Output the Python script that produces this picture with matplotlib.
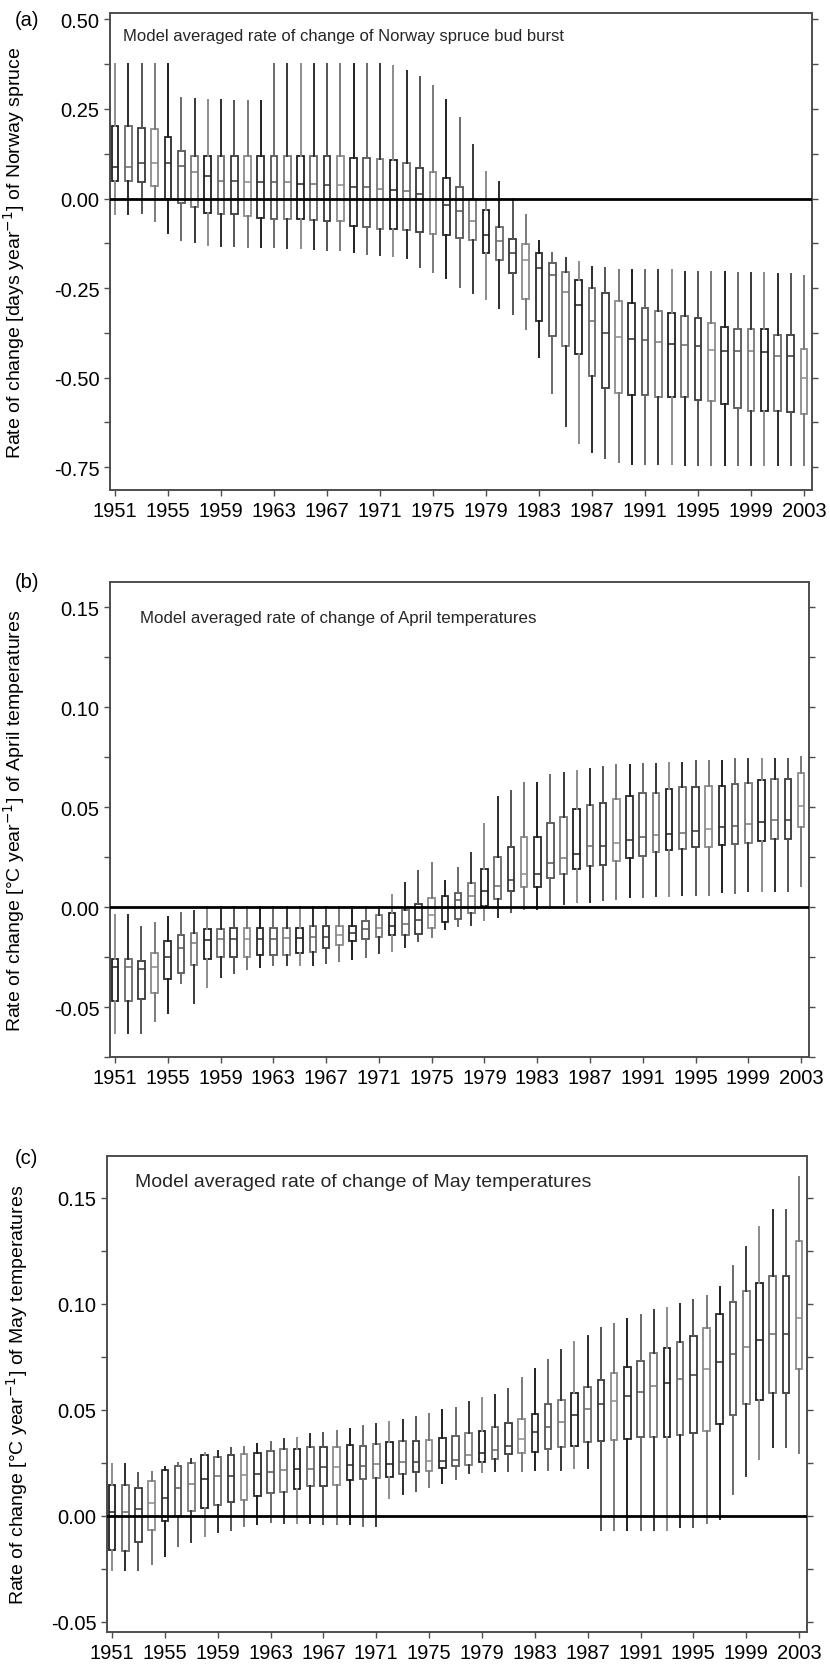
import matplotlib
matplotlib.use("Agg")
import matplotlib.pyplot as plt
from matplotlib.ticker import MultipleLocator

plt.rcParams['font.family'] = ['Liberation Sans', 'DejaVu Sans']
plt.rcParams['axes.unicode_minus'] = False

years = list(range(1951, 2004))
year_ticks = list(range(1951, 2004, 4))

# (a) Norway spruce bud burst, days per year
spruce_hi = [0.376, 0.376, 0.376, 0.376, 0.376, 0.282, 0.278, 0.275, 0.275, 0.272,
             0.272, 0.272, 0.376, 0.376, 0.376, 0.376, 0.376, 0.376, 0.376, 0.376,
             0.376, 0.370, 0.357, 0.338, 0.313, 0.275, 0.224, 0.150, 0.075, 0.047,
             0.000, -0.047, -0.119, -0.152, -0.166, -0.176, -0.190, -0.195, -0.199, -0.199,
             -0.201, -0.201, -0.201, -0.204, -0.204, -0.204, -0.204, -0.207, -0.209, -0.209,
             -0.211, -0.211, -0.216]
spruce_q3 = [0.203, 0.203, 0.198, 0.193, 0.172, 0.134, 0.120, 0.120, 0.120, 0.120,
             0.120, 0.120, 0.120, 0.120, 0.120, 0.120, 0.120, 0.120, 0.114, 0.114,
             0.111, 0.108, 0.100, 0.085, 0.075, 0.056, 0.031, 0.000, -0.032, -0.079,
             -0.113, -0.126, -0.152, -0.179, -0.204, -0.227, -0.251, -0.265, -0.286, -0.291,
             -0.307, -0.314, -0.320, -0.329, -0.333, -0.348, -0.359, -0.364, -0.365, -0.365,
             -0.380, -0.380, -0.421]
spruce_med = [0.087, 0.087, 0.100, 0.100, 0.100, 0.090, 0.075, 0.062, 0.050, 0.050,
              0.047, 0.047, 0.047, 0.047, 0.040, 0.040, 0.038, 0.038, 0.031, 0.031,
              0.026, 0.024, 0.022, 0.012, -0.002, -0.019, -0.035, -0.063, -0.103, -0.119,
              -0.152, -0.171, -0.195, -0.213, -0.260, -0.298, -0.343, -0.375, -0.387, -0.392,
              -0.396, -0.402, -0.406, -0.409, -0.413, -0.423, -0.425, -0.425, -0.425, -0.428,
              -0.440, -0.440, -0.500]
spruce_q1 = [0.050, 0.050, 0.047, 0.034, 0.000, -0.013, -0.025, -0.040, -0.042, -0.042,
             -0.049, -0.054, -0.056, -0.056, -0.058, -0.060, -0.063, -0.063, -0.077, -0.079,
             -0.084, -0.085, -0.087, -0.093, -0.098, -0.103, -0.110, -0.115, -0.152, -0.173,
             -0.209, -0.282, -0.342, -0.383, -0.412, -0.433, -0.495, -0.529, -0.543, -0.548,
             -0.548, -0.553, -0.553, -0.553, -0.562, -0.565, -0.575, -0.585, -0.594, -0.594,
             -0.594, -0.596, -0.601]
spruce_lo = [-0.044, -0.044, -0.040, -0.063, -0.096, -0.117, -0.122, -0.129, -0.132, -0.134,
             -0.135, -0.135, -0.135, -0.138, -0.138, -0.141, -0.145, -0.145, -0.150, -0.154,
             -0.157, -0.160, -0.166, -0.190, -0.204, -0.223, -0.246, -0.265, -0.282, -0.305,
             -0.322, -0.365, -0.442, -0.543, -0.635, -0.683, -0.707, -0.726, -0.736, -0.742,
             -0.742, -0.742, -0.742, -0.745, -0.745, -0.745, -0.745, -0.745, -0.745, -0.745,
             -0.745, -0.745, -0.745]

# (b) April temperatures, degC per year
april_hi = [-0.004, -0.004, -0.010, -0.008, -0.005, -0.003, -0.002, 0.000, 0.000, 0.000,
            0.000, 0.000, 0.000, 0.000, 0.000, 0.000, 0.000, 0.000, 0.000, 0.000,
            0.000, 0.006, 0.012, 0.018, 0.022, 0.0128, 0.0195, 0.027, 0.0415, 0.055,
            0.058, 0.062, 0.062, 0.066, 0.067, 0.068, 0.069, 0.070, 0.071, 0.071,
            0.0715, 0.0715, 0.072, 0.072, 0.073, 0.073, 0.073, 0.074, 0.074, 0.074,
            0.074, 0.074, 0.075]
april_q3 = [-0.026, -0.026, -0.027, -0.023, -0.017, -0.014, -0.013, -0.011, -0.011, -0.0105,
            -0.0105, -0.0105, -0.0105, -0.0105, -0.0105, -0.0097, -0.0097, -0.0097, -0.0093, -0.007,
            -0.004, -0.003, -0.0015, 0.0017, 0.0045, 0.0053, 0.007, 0.012, 0.019, 0.025,
            0.030, 0.035, 0.035, 0.042, 0.045, 0.049, 0.051, 0.052, 0.054, 0.0557,
            0.057, 0.057, 0.059, 0.060, 0.060, 0.0607, 0.0607, 0.0615, 0.062, 0.0637,
            0.064, 0.064, 0.067]
april_med = [-0.030, -0.030, -0.031, -0.030, -0.025, -0.0205, -0.018, -0.0167, -0.016, -0.016,
             -0.016, -0.016, -0.016, -0.0155, -0.0155, -0.015, -0.015, -0.014, -0.013, -0.011,
             -0.0105, -0.0093, -0.0083, -0.0067, -0.004, -0.0005, 0.0037, 0.0053, 0.0078, 0.0103,
             0.0137, 0.0167, 0.0167, 0.022, 0.0245, 0.0267, 0.0307, 0.0307, 0.032, 0.0335,
             0.035, 0.036, 0.0365, 0.037, 0.038, 0.039, 0.040, 0.0407, 0.0415, 0.0427,
             0.0435, 0.0435, 0.0507]
april_q1 = [-0.047, -0.047, -0.046, -0.043, -0.036, -0.033, -0.029, -0.026, -0.025, -0.025,
            -0.025, -0.024, -0.024, -0.024, -0.023, -0.0227, -0.0205, -0.019, -0.017, -0.016,
            -0.015, -0.014, -0.014, -0.0133, -0.0105, -0.0077, -0.006, -0.003, 0.0003, 0.004,
            0.0078, 0.010, 0.010, 0.0145, 0.0167, 0.019, 0.0207, 0.021, 0.0228, 0.0245,
            0.0257, 0.0273, 0.0285, 0.029, 0.030, 0.030, 0.031, 0.0315, 0.032, 0.033,
            0.034, 0.034, 0.040]
april_lo = [-0.063, -0.063, -0.063, -0.057, -0.053, -0.038, -0.048, -0.040, -0.035, -0.033,
            -0.031, -0.030, -0.029, -0.029, -0.029, -0.029, -0.028, -0.027, -0.026, -0.025,
            -0.023, -0.022, -0.020, -0.017, -0.015, -0.011, -0.0097, -0.0088, -0.0067, -0.005,
            -0.0027, -0.001, -0.001, 0.0012, 0.0017, 0.0023, 0.0023, 0.0033, 0.004, 0.005,
            0.005, 0.0053, 0.0057, 0.006, 0.006, 0.006, 0.0073, 0.007, 0.0078, 0.0078,
            0.0078, 0.0078, 0.0107]

# (c) May temperatures, degC per year
may_hi = [0.0244, 0.0244, 0.020, 0.0208, 0.0228, 0.025, 0.0267, 0.0296, 0.0307, 0.0318,
          0.0322, 0.0338, 0.0349, 0.0362, 0.0365, 0.0385, 0.039, 0.040, 0.0409, 0.0425,
          0.0432, 0.0443, 0.0453, 0.0464, 0.048, 0.050, 0.051, 0.0535, 0.0555, 0.057,
          0.060, 0.065, 0.069, 0.0737, 0.078, 0.082, 0.0848, 0.0884, 0.0906, 0.0927,
          0.0947, 0.097, 0.098, 0.0998, 0.102, 0.1037, 0.108, 0.118, 0.127, 0.136,
          0.144, 0.144, 0.160]
may_q3 = [0.0145, 0.0145, 0.0129, 0.0165, 0.0217, 0.0236, 0.0248, 0.0286, 0.0275, 0.0286,
          0.029, 0.0296, 0.0307, 0.0314, 0.0314, 0.0322, 0.0322, 0.0322, 0.0333, 0.033,
          0.0338, 0.0349, 0.0354, 0.0354, 0.0358, 0.0365, 0.0374, 0.039, 0.040, 0.0417,
          0.0437, 0.0455, 0.0482, 0.0525, 0.0545, 0.058, 0.0608, 0.064, 0.0674, 0.070,
          0.073, 0.0769, 0.079, 0.082, 0.0848, 0.0884, 0.0953, 0.101, 0.1058, 0.110,
          0.113, 0.113, 0.1298]
may_med = [0.0016, 0.0016, 0.0031, 0.006, 0.0086, 0.0129, 0.0149, 0.0173, 0.0186, 0.0189,
           0.0192, 0.0197, 0.0208, 0.0217, 0.022, 0.022, 0.0228, 0.0228, 0.0239, 0.0236,
           0.0244, 0.0244, 0.0252, 0.0255, 0.026, 0.026, 0.0264, 0.0286, 0.0296, 0.0311,
           0.033, 0.0362, 0.0393, 0.0417, 0.0443, 0.0476, 0.0505, 0.0525, 0.0543, 0.0567,
           0.0585, 0.061, 0.0628, 0.0647, 0.0666, 0.069, 0.0726, 0.0764, 0.0795, 0.0827,
           0.0855, 0.0855, 0.0934]
may_q1 = [-0.016, -0.0165, -0.0123, -0.0066, -0.0024, 0.000, 0.0024, 0.0035, 0.005, 0.0066,
          0.0075, 0.0094, 0.0107, 0.0113, 0.0126, 0.0138, 0.0142, 0.0145, 0.017, 0.0173,
          0.0176, 0.0184, 0.0197, 0.0204, 0.0212, 0.0223, 0.0233, 0.0239, 0.0252, 0.027,
          0.0291, 0.0296, 0.0302, 0.0314, 0.0322, 0.0327, 0.0346, 0.0354, 0.0358, 0.0362,
          0.037, 0.037, 0.037, 0.038, 0.039, 0.040, 0.0435, 0.0475, 0.0525, 0.0547,
          0.058, 0.058, 0.069]
may_lo = [-0.0255, -0.0255, -0.0255, -0.0228, -0.0189, -0.0142, -0.0126, -0.0094, -0.0079, -0.0066,
          -0.0047, -0.004, -0.003, -0.0035, -0.0035, -0.0035, -0.004, -0.004, -0.004, -0.0047,
          -0.0047, 0.0086, 0.0102, 0.0118, 0.0134, 0.0154, 0.0173, 0.0201, 0.0208, 0.0212,
          0.0212, 0.0212, 0.0217, 0.0217, 0.0217, 0.0223, 0.0223, -0.0066, -0.0066, -0.0066,
          -0.0066, -0.0066, -0.0066, -0.0055, -0.0055, -0.0035, -0.0016, 0.0102, 0.0186, 0.0267,
          0.0322, 0.0322, 0.0296]

# grey shades cycled over the boxes, like the printed original
shades = ['#202020', '#6a6a6a', '#383838', '#8c8c8c', '#2c2c2c', '#555555', '#7a7a7a']

fig = plt.figure(figsize=(8.3, 16.65), dpi=100)


def draw_panel(rect, lo, q1, med, q3, hi, ylim, major, minor, ylabel, note, note_xy, note_size, letter, letter_y, label_x):
    ax = fig.add_axes(rect)
    stats = []
    for i in range(len(years)):
        stats.append({'whislo': lo[i], 'q1': q1[i], 'med': med[i], 'q3': q3[i], 'whishi': hi[i]})
    art = ax.bxp(stats, positions=years, widths=0.5, showcaps=False, showfliers=False,
                 patch_artist=True, manage_ticks=False)
    for i, box in enumerate(art['boxes']):
        c = shades[i % len(shades)]
        box.set_facecolor('white')
        box.set_edgecolor(c)
        box.set_linewidth(1.3)
        art['medians'][i].set_color(c)
        art['medians'][i].set_linewidth(1.1)
        for w in art['whiskers'][2 * i:2 * i + 2]:
            w.set_color(shades[(i + 3) % len(shades)])
            w.set_linewidth(1.4)
    ax.axhline(0, color='black', lw=2.0, zorder=3)
    ax.set_xlim(1950.62, 2003.6)
    ax.set_ylim(*ylim)
    ax.set_xticks(year_ticks)
    ax.set_xticklabels([str(y) for y in year_ticks])
    ax.yaxis.set_major_locator(MultipleLocator(major))
    ax.yaxis.set_minor_locator(MultipleLocator(minor))
    ax.yaxis.set_major_formatter(plt.FormatStrFormatter('%.2f'))
    ax.tick_params(axis='both', which='both', direction='out', labelsize=14.5, color='0.3')
    ax.tick_params(axis='y', which='both', right=True, length=4, width=1.0)
    ax.tick_params(axis='x', length=4, width=1.0, pad=4)
    for s in ax.spines.values():
        s.set_color('0.3')
        s.set_linewidth(1.4)
    ax.set_ylabel(ylabel, fontsize=14)
    ax.yaxis.set_label_coords(label_x, 0.5)
    ax.text(note_xy[0], note_xy[1], note, transform=ax.transAxes, fontsize=note_size,
            va='center', ha='left', color='0.15')
    fig.text(15 / 830, letter_y, letter, fontsize=14.5, va='center', ha='left')
    return ax


draw_panel([110 / 830, 1 - 491 / 1665, 702 / 830, 477 / 1665],
           spruce_lo, spruce_q1, spruce_med, spruce_q3, spruce_hi,
           (-0.814, 0.518), 0.25, 0.125,
           'Rate of change [days year$^{-1}$] of Norway spruce',
           'Model averaged rate of change of Norway spruce bud burst', (0.0185, 0.952), 12,
           '(a)', 1 - 20 / 1665, -0.118)

draw_panel([110 / 830, 1 - 1058 / 1665, 699 / 830, 475 / 1665],
           april_lo, april_q1, april_med, april_q3, april_hi,
           (-0.075, 0.1625), 0.05, 0.025,
           'Rate of change [°C year$^{-1}$] of April temperatures',
           'Model averaged rate of change of April temperatures', (0.043, 0.926), 12.2,
           '(b)', 1 - 583 / 1665, -0.119)

draw_panel([107 / 830, 1 - 1632.7 / 1665, 700 / 830, 475.7 / 1665],
           may_lo, may_q1, may_med, may_q3, may_hi,
           (-0.0547, 0.1697), 0.05, 0.025,
           'Rate of change [°C year$^{-1}$] of May temperatures',
           'Model averaged rate of change of May temperatures', (0.04, 0.947), 14,
           '(c)', 1 - 1159 / 1665, -0.11)

fig.savefig('out.png', dpi=100)
